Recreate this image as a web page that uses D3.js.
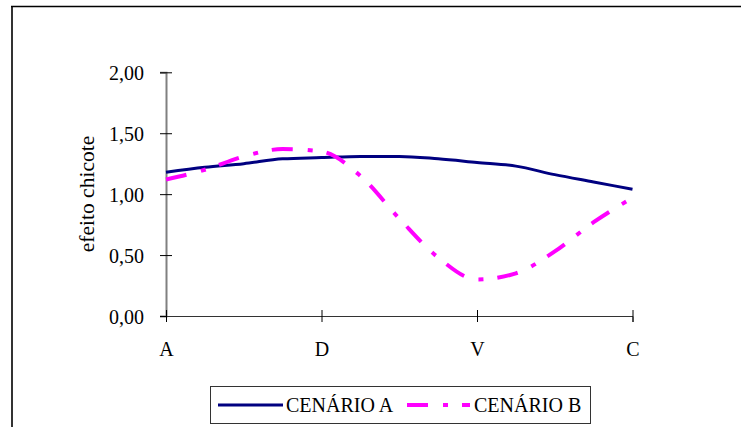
<!DOCTYPE html>
<html>
<head>
<meta charset="utf-8">
<script src="https://cdn.jsdelivr.net/npm/d3@7"></script>
<style>
  body { margin: 0; background: #fff; }
  svg text { font-family: 'Liberation Serif', 'Times New Roman', Times, serif; fill: #000; }
</style>
</head>
<body>
<div id="canvas"></div>
<script>
// chart size
var width = 741;
var height = 427;
var serif = "'Liberation Serif', 'Times New Roman', Times, serif";

// data: 13 points along the chain, only 4 of them labelled
var steps = [0, 1, 2, 3, 4, 5, 6, 7, 8, 9, 10, 11, 12];
var tickSteps = [0, 4, 8, 12];
var tickLabels = ["A", "D", "V", "C"];
var cenarioA = [1.18, 1.22, 1.25, 1.29, 1.30, 1.31, 1.31, 1.29, 1.26, 1.23, 1.16, 1.10, 1.04];
var cenarioB = [1.12, 1.20, 1.31, 1.37, 1.35, 1.15, 0.80, 0.48, 0.30, 0.35, 0.53, 0.77, 0.97];
var seriesNames = ["CENÁRIO A", "CENÁRIO B"];
var yTicks = [0, 0.5, 1, 1.5, 2];

var x = d3.scaleLinear().domain([0, 12]).range([166, 632.5]);
var y = d3.scaleLinear().domain([0, 2]).range([316, 72.3]);

var svg = d3.select("#canvas")
  .append("svg")
  .attr("width", width)
  .attr("height", height)
  .attr("font-family", serif);

// outer frame (only left and top edges are in view)
svg.append("line").attr("x1", 12).attr("x2", 12).attr("y1", 6.5).attr("y2", height)
  .style("stroke", "#333").style("stroke-width", 2);
svg.append("line").attr("x1", 11).attr("x2", width).attr("y1", 6.5).attr("y2", 6.5)
  .style("stroke", "#000").style("stroke-width", 1.5);

// y axis
var yAxis = svg.append("g")
  .attr("transform", "translate(166,0)")
  .call(d3.axisLeft(y).tickValues(yTicks).tickSize(6).tickPadding(15)
    .tickFormat(d => d3.format(".2f")(d).replace(".", ",")))
  .attr("font-family", serif)
  .attr("font-size", 20);
yAxis.select(".domain").style("stroke", "#808080").style("stroke-width", 2);
yAxis.selectAll(".tick line").attr("x1", 6).attr("x2", -6).style("stroke", "#000");
yAxis.selectAll(".tick text")
  .attr("dy", "0.35em")
  .attr("dx", "-1");

// x axis
var xAxis = svg.append("g")
  .attr("transform", "translate(0,316)")
  .call(d3.axisBottom(x).tickValues(tickSteps).tickSize(6).tickPadding(20)
    .tickFormat((d, i) => tickLabels[i]))
  .attr("font-family", serif)
  .attr("font-size", 20);
xAxis.select(".domain").style("stroke", "#333").style("stroke-width", 1);
xAxis.selectAll(".tick line").attr("y1", -6).attr("y2", 6).style("stroke", "#000");

// axis title
svg.append("text")
  .attr("transform", "translate(94,194) rotate(-90)")
  .attr("text-anchor", "middle")
  .attr("font-size", 21.5)
  .text("efeito chicote");

// smoothed lines, as in the spreadsheet chart
var line = d3.line()
  .x((d, i) => x(steps[i]))
  .y(d => y(d))
  .curve(d3.curveMonotoneX);

svg.append("path")
  .datum(cenarioA)
  .attr("d", line)
  .style("fill", "none")
  .style("stroke", "#000080")
  .style("stroke-width", 3);

svg.append("path")
  .datum(cenarioB)
  .attr("d", line)
  .style("fill", "none")
  .style("stroke", "#ff00ff")
  .style("stroke-width", 4)
  .style("stroke-dasharray", "21,15,5,14");

// legend
var legend = svg.append("g");
legend.append("rect")
  .attr("x", 210.5).attr("y", 386.5)
  .attr("width", 380).attr("height", 37)
  .style("fill", "#fff").style("stroke", "#333").style("stroke-width", 1);

legend.append("line").attr("x1", 218).attr("x2", 283).attr("y1", 405).attr("y2", 405)
  .style("stroke", "#000080").style("stroke-width", 3);
legend.append("text").attr("x", 286).attr("y", 412).attr("font-size", 20).text(seriesNames[0]);

legend.append("line").attr("x1", 407).attr("x2", 470).attr("y1", 405).attr("y2", 405)
  .style("stroke", "#ff00ff").style("stroke-width", 4).style("stroke-dasharray", "21,15,5,14");
legend.append("text").attr("x", 474).attr("y", 412).attr("font-size", 20).text(seriesNames[1]);
</script>
</body>
</html>
